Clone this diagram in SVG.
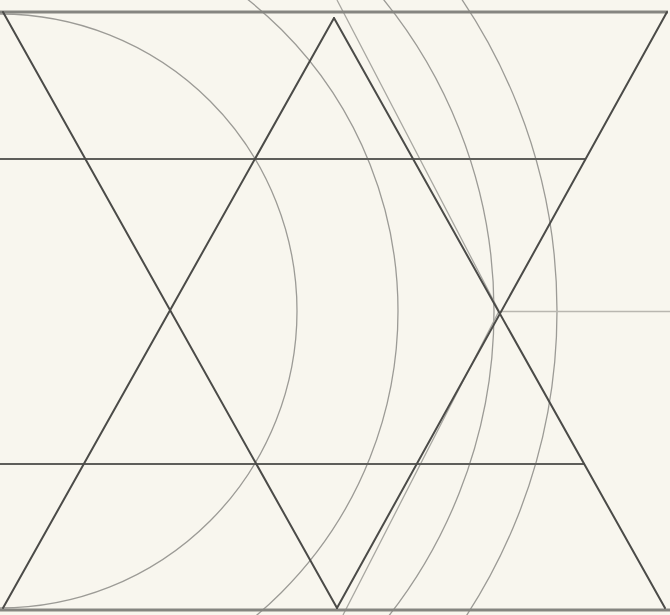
<svg xmlns="http://www.w3.org/2000/svg" width="670" height="615" viewBox="0 0 670 615">
<style>
.frame{stroke:#858580;stroke-width:3;fill:none}
.ink{stroke:#4b4b48;stroke-width:2;fill:none;stroke-linecap:round}
.hz{stroke:#5e5e5a;stroke-width:2;fill:none}
.arc{stroke:#9c9b96;stroke-width:1.3;fill:none}
.ghost{stroke:#a9a8a2;stroke-width:1.3;fill:none}
.faint{stroke:#b9b7b0;stroke-width:1.5;fill:none}
</style>
<rect width="670" height="615" fill="#f8f6ee"/>
<g id="arcs">
<circle class="arc" cx="0" cy="311" r="297"/>
<circle class="arc" cx="0" cy="311" r="398"/>
<circle class="arc" cx="0" cy="311" r="494"/>
<circle class="arc" cx="0" cy="311" r="557"/>
<polyline class="ghost" points="337,0 499,311 343,615"/>
</g>
<g id="frame">
<line class="frame" x1="0" y1="12" x2="668" y2="12"/>
<line class="frame" x1="0" y1="610" x2="670" y2="610"/>
</g>
<g id="horizontals">
<line class="hz" x1="0" y1="159" x2="585" y2="159"/>
<line class="hz" x1="0" y1="464" x2="585" y2="464"/>
<line class="faint" x1="500" y1="311.5" x2="670" y2="311.5"/>
</g>
<g id="triangles">
<line class="ink" x1="3" y1="12" x2="337" y2="608"/>
<line class="ink" x1="334" y1="18" x2="3" y2="608"/>
<line class="ink" x1="334" y1="18" x2="665" y2="608"/>
<line class="ink" x1="667" y1="12" x2="337" y2="608"/>
</g>
</svg>
